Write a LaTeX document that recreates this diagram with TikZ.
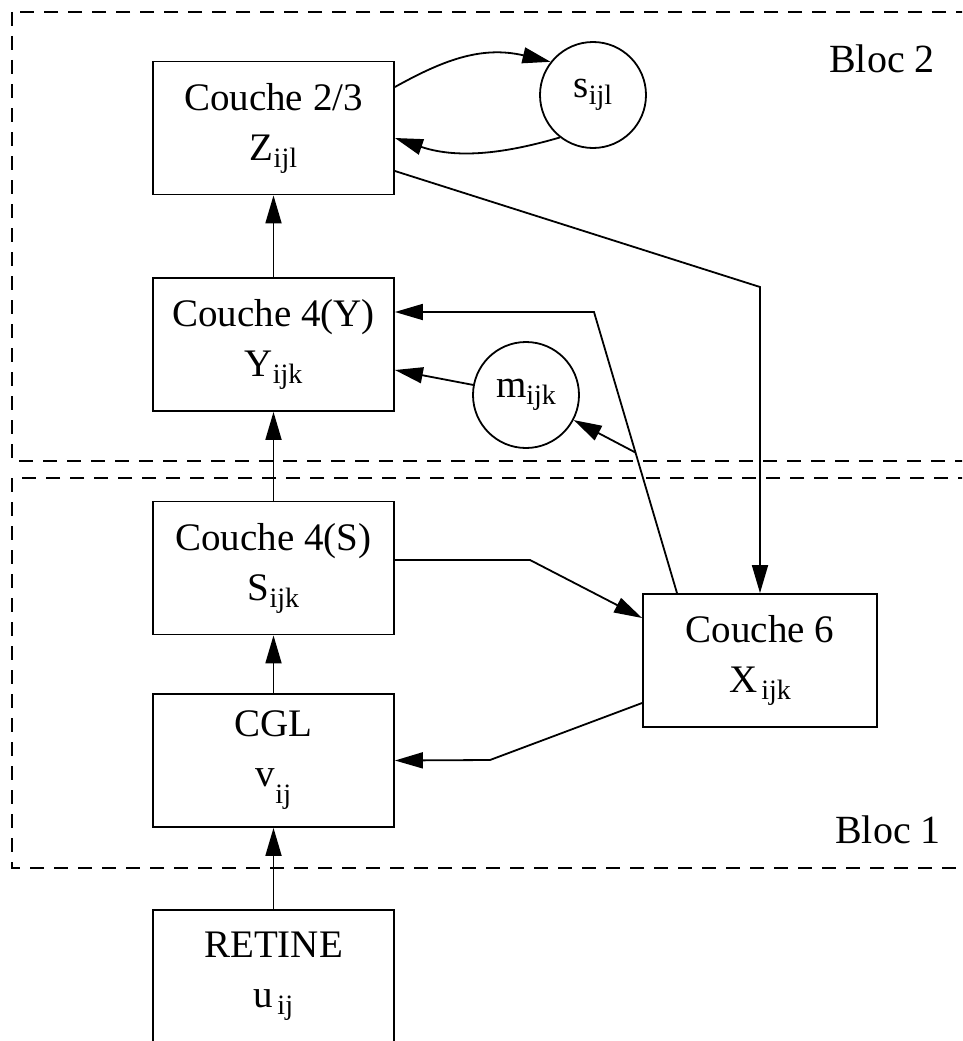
\documentclass[tikz,border=0pt]{standalone}
\usepackage{fontspec}
\setmainfont{Liberation Serif}
\usetikzlibrary{arrows.meta,calc}
\newcommand\idx[3][7pt]{#2\raisebox{-#1}{\fontsize{28}{28}\selectfont #3}}

\begin{document}
\begin{tikzpicture}[x=1pt,y=-1pt,line width=1.8pt,
  >={Triangle[length=28pt,width=16pt]},
  couche/.style={draw,minimum width=241pt,minimum height=133pt,align=center,inner sep=0pt,font=\fontsize{39}{50}\selectfont},
  etat/.style={draw,circle,minimum size=106pt,inner sep=0pt,font=\fontsize{39}{50}\selectfont},
  bloc/.style={dash pattern=on 14pt off 10pt},
  blocname/.style={anchor=base,font=\fontsize{40}{50}\selectfont}]
  \useasboundingbox (0,0) rectangle (962,1041);
  \clip (0,0) rectangle (962,1041);
  % blocs
  \draw[bloc] (12,12) rectangle (990,461);
  \draw[bloc] (12,478) rectangle (990,868);
  \node[blocname] (b2) at (882,72) {Bloc 2};
  \node[blocname] (b1) at (888,843) {Bloc 1};
  % couches
  \node[couche] (c23) at (273.5,128) {Couche 2/3\\\idx{Z}{ijl}};
  \node[couche] (c4y) at (273.5,344.5) {Couche 4(Y)\\\idx{Y}{ijk}};
  \node[couche] (c4s) at (273.5,568) {Couche 4(S)\\\idx{S}{ijk}};
  \node[couche] (cgl) at (273.5,760.5) {CGL\\\idx[17pt]{v}{ij}};
  \node[couche] (ret) at (273.5,976.5) {RETINE\\\idx{u\kern4pt}{ij}};
  \node[couche,minimum width=234pt] (c6) at (760,660.5) {Couche 6\\\idx{X\kern4pt}{ijk}};
  \node[etat] (s) at (593,95) {\idx{s}{ijl}};
  \node[etat] (m) at (526,395) {\idx{m}{ijk}};
  % coudes
  \coordinate (k1) at (760,287);
  \coordinate (k2) at (594,312);
  \coordinate (k3) at (530,560);
  \coordinate (k4) at (490,760);
  \coordinate (k5) at ($([xshift=-83pt]c6.north)!0.5!(k2)$);
  % connexions
  \draw[->] (ret.north) -- (cgl.south);
  \draw[->] (cgl.north) -- (c4s.south);
  \draw[->] (c4s.north) -- (c4y.south);
  \draw[->] (c4y.north) -- (c23.south);
  \draw[->] ([yshift=41pt]c23.east) .. controls (440,62) and (480,45) .. (s.142);
  \draw[->] (s.232) .. controls (510,152) and (460,160) .. ([yshift=-10pt]c23.east);
  \draw[->] ([yshift=-43pt]c23.east) -- (k1) -- (c6.north);
  \draw[->] ([xshift=-83pt]c6.north) -- (k2) -- (k2 -| c4y.east);
  \draw[->] (k5) -- (m);
  \draw[->] (m) -- ([yshift=-25.5pt]c4y.east);
  \draw[->] ([yshift=8pt]c4s.east) -- (k3) -- ([yshift=42.5pt]c6.west);
  \draw[->] ([yshift=-42.5pt]c6.west) -- (k4) -- (cgl.east);
\end{tikzpicture}
\end{document}
